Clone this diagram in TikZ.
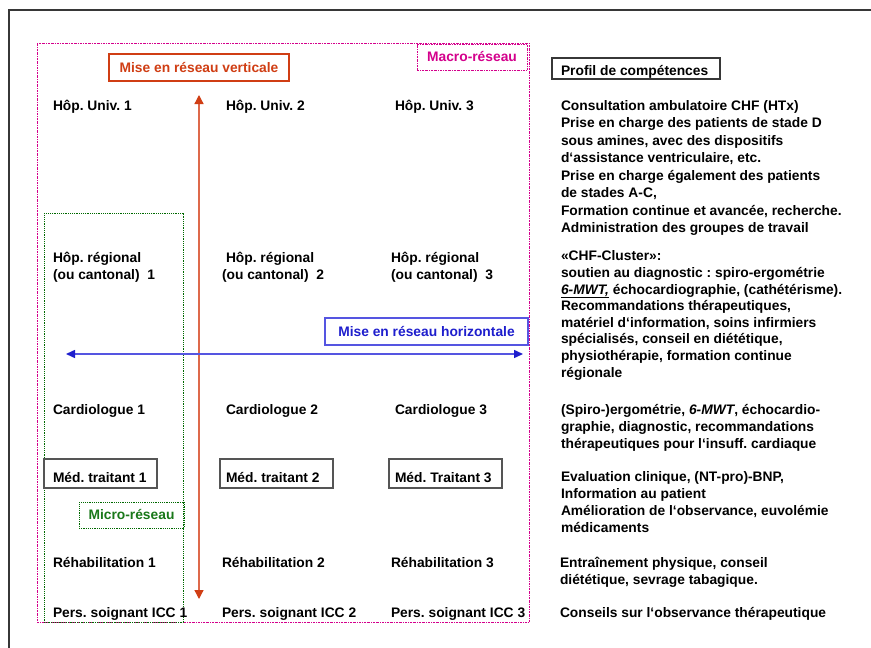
\documentclass[tikz,border=0pt]{standalone}
\usepackage{fontspec}
\setmainfont{Liberation Sans}
\usetikzlibrary{arrows.meta}
\frenchspacing
\definecolor{vred}{RGB}{208,62,20}
\definecolor{vredl}{RGB}{222,105,75}
\definecolor{hblue}{RGB}{30,30,205}
\definecolor{hbluel}{RGB}{85,85,225}
\definecolor{mag}{RGB}{212,0,140}
\definecolor{mgreen}{RGB}{0,105,0}
\definecolor{tgreen}{RGB}{25,120,25}
\definecolor{framegray}{RGB}{55,55,55}
\definecolor{boxgray}{RGB}{85,85,85}
\begin{document}
\begin{tikzpicture}[x=1pt,y=-1pt,
  every node/.style={inner sep=0pt, outer sep=0pt, font=\fontsize{13.8}{17}\selectfont\bfseries\frenchspacing},
  lbl/.style={anchor=base west},
  blk/.style={anchor=base west, align=left},
  macdash/.style={draw=mag, line width=1pt, dash pattern=on 2pt off 1pt on 0.6pt off 1pt},
  micdash/.style={draw=mgreen, line width=1pt, dash pattern=on 1.2pt off 1pt},
  graybox/.style={draw=boxgray, line width=1.3pt, anchor=north west},
  varrow/.style={draw=vredl, line width=1.3pt, {Triangle[length=9pt,width=9pt,fill=vred,color=vred]}-{Triangle[length=9pt,width=9pt,fill=vred,color=vred]}},
  harrow/.style={draw=hbluel, line width=1.5pt, {Triangle[length=9pt,width=8pt,fill=hblue,color=hblue]}-{Triangle[length=9pt,width=8pt,fill=hblue,color=hblue]}}
]
\useasboundingbox (0,0) rectangle (871,648);
\fill[white] (0,0) rectangle (871,648);
% outer frame
\draw[framegray, line width=1.5pt] (871,10) -- (9,10) -- (9,648);

% macro and micro networks
\node[macdash, anchor=north west, minimum width=492pt, minimum height=579pt] (macro) at (37,43) {};
\node[micdash, anchor=north west, minimum width=139pt, minimum height=409pt] (micro) at (44,213) {};
\node[macdash, minimum width=110pt, minimum height=26pt, text=mag] (macrolbl) at (472,57) {Macro-réseau};
\node[micdash, minimum width=105pt, minimum height=26pt, text=tgreen] (microlbl) at (131.5,515) {Micro-réseau};

% network labels
\node[draw=vred, line width=1.2pt, minimum width=180pt, minimum height=27pt, text=vred] (vlbl) at (199,67.5) {Mise en réseau verticale};
\node[draw=hbluel, line width=1.2pt, minimum width=203pt, minimum height=27pt, text=hblue] (hlbl) at (426.5,331.5) {Mise en réseau horizontale};

% arrows
\coordinate (vtop) at (199,95);
\coordinate (vbot) at (199,599);
\coordinate (hleft) at (66,354);
\coordinate (hright) at (523,354);
\draw[varrow] (vtop) -- (vbot);
\draw[harrow] (hleft) -- (hright);

% row: university hospitals
\node[lbl] (hu1) at (53,110) {Hôp. Univ. 1};
\node[lbl] (hu2) at (226,110) {Hôp. Univ. 2};
\node[lbl] (hu3) at (395,110) {Hôp. Univ. 3};

% row: regional hospitals (base = last line)
\node[blk] (hr1) at (53,279) {Hôp. régional\\(ou cantonal)\ \ 1};
\node[blk] (hr2) at (222,279) {\hspace{4pt}Hôp. régional\\(ou cantonal)\ \ 2};
\node[blk] (hr3) at (391,279) {Hôp. régional\\(ou cantonal)\ \ 3};

% row: cardiologists
\node[lbl] (ca1) at (53,414) {Cardiologue 1};
\node[lbl] (ca2) at (226,414) {Cardiologue 2};
\node[lbl] (ca3) at (395,414) {Cardiologue 3};

% row: GPs
\node[graybox, minimum width=113pt, minimum height=29pt] (mt1box) at (44,459) {};
\node[graybox, minimum width=113pt, minimum height=29pt] (mt2box) at (220,459) {};
\node[graybox, minimum width=113pt, minimum height=29pt] (mt3box) at (389,459) {};
\node[lbl] (mt1) at (53,482) {Méd. traitant 1};
\node[lbl] (mt2) at (226,482) {Méd. traitant 2};
\node[lbl] (mt3) at (395,482) {Méd. Traitant 3};

% row: rehabilitation
\node[lbl] (re1) at (53,567) {Réhabilitation 1};
\node[lbl] (re2) at (222,567) {Réhabilitation 2};
\node[lbl] (re3) at (391,567) {Réhabilitation 3};

% row: nurses
\node[lbl] (ps1) at (53,617) {Pers. soignant ICC 1};
\node[lbl] (ps2) at (222,617) {Pers. soignant ICC 2};
\node[lbl] (ps3) at (391,617) {Pers. soignant ICC 3};

% competence profile
\node[draw=framegray, line width=1.2pt, anchor=north west, minimum width=168pt, minimum height=21pt] (profbox) at (552,58) {};
\node[lbl] (prof) at (561,75) {Profil de compétences};

% multi-line blocks: base anchor is the baseline of the last line
\node[blk, font=\fontsize{13.8}{17.5}\selectfont\bfseries\frenchspacing] (b1) at (561,232.5) {Consultation ambulatoire CHF (HTx)\\
Prise en charge des patients de stade D\\
sous amines, avec des dispositifs\\
d‘assistance ventriculaire, etc.\\
Prise en charge également des patients\\
de stades A-C,\\
Formation continue et avancée, recherche.\\
Administration des groupes de travail};

\node[blk, font=\fontsize{13.8}{16.6}\selectfont\bfseries\frenchspacing] (b2) at (561,377) {«CHF-Cluster»:\\
soutien au diagnostic : spiro-ergométrie\\
\underline{\textit{6-MWT,}} échocardiographie, (cathétérisme).\\
Recommandations thérapeutiques,\\
matériel d‘information, soins infirmiers\\
spécialisés, conseil en diététique,\\
physiothérapie, formation continue\\
régionale};

\node[blk] (b3) at (561,448) {(Spiro-)ergométrie, \textit{6-MWT}, échocardio-\\
graphie, diagnostic, recommandations\\
thérapeutiques pour l‘insuff. cardiaque};

\node[blk, font=\fontsize{13.8}{16.7}\selectfont\bfseries\frenchspacing] (b4) at (561,532) {Evaluation clinique, (NT-pro)-BNP,\\
Information au patient\\
Amélioration de l‘observance, euvolémie\\
médicaments};

\node[blk] (b5) at (560,584) {Entraînement physique, conseil\\
diététique, sevrage tabagique.};

\node[lbl] (b6) at (560,617) {Conseils sur l‘observance thérapeutique};
\end{tikzpicture}
\end{document}
